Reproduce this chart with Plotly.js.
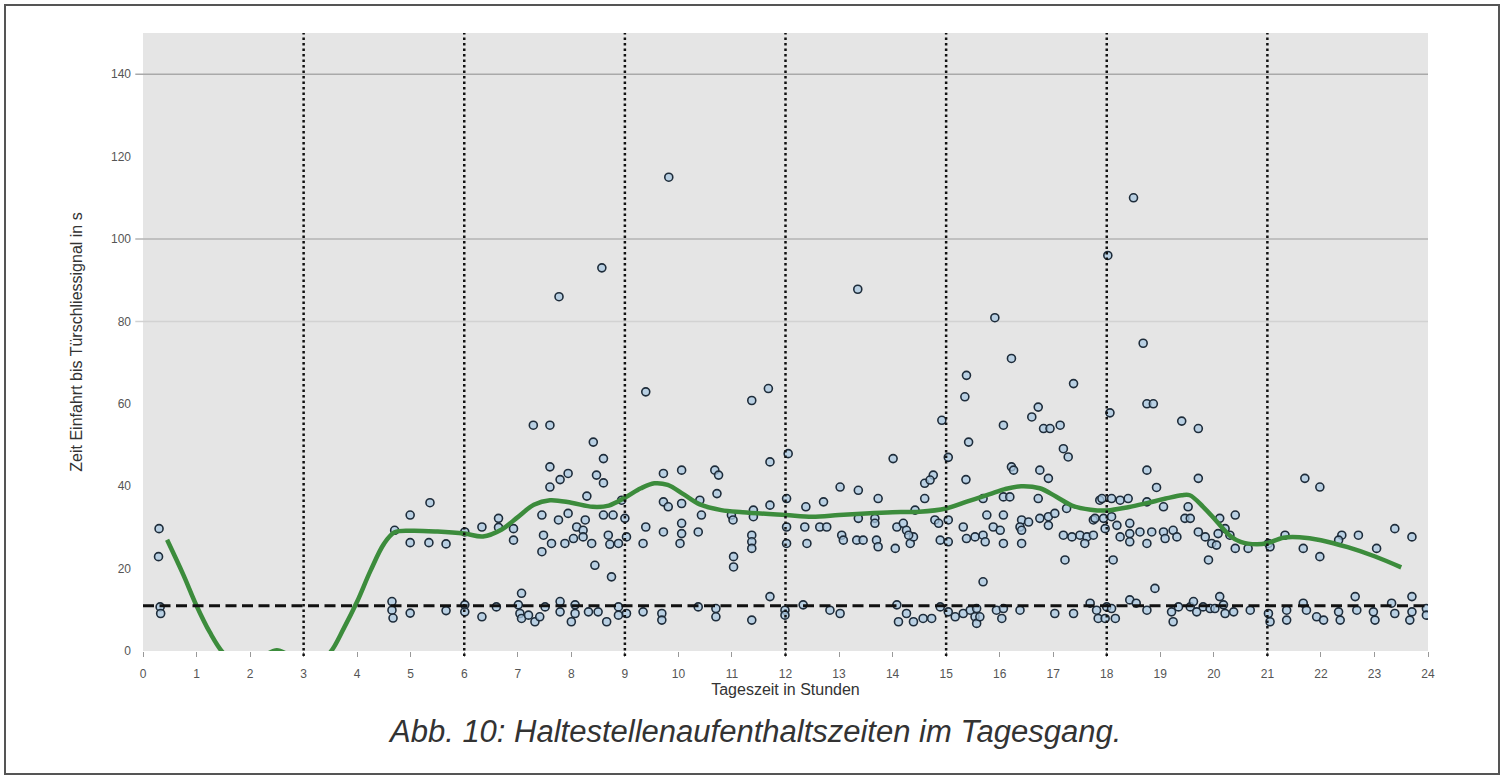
<!DOCTYPE html>
<html>
<head>
<meta charset="utf-8">
<script src="https://cdn.plot.ly/plotly-3.0.1.min.js"></script>
<style>
  html, body { margin: 0; padding: 0; background: #ffffff; }
  #frame { position: absolute; left: 4px; top: 4px; width: 1496px; height: 771px; border: 2px solid #555; box-sizing: border-box; }
  #chart { position: absolute; left: 0; top: 0; width: 1508px; height: 781px; }
</style>
</head>
<body>
<div id="chart"></div>
<div id="frame"></div>
<script>
// Observed stops: hour of day and dwell time (s)
const hours = [
 0.30,0.29,0.32,0.33,4.65,4.65,4.67,4.70,4.99,5.36,4.99,5.34,5.66,4.99,5.66,6.01,6.01,6.01,6.33,6.64,6.64,6.92,6.92,6.33,6.60,
 7.29,7.60,7.77,8.57,8.41,8.60,7.60,7.94,7.79,7.60,8.47,8.60,8.29,8.94,7.45,7.76,7.94,8.10,8.26,8.22,8.60,8.78,9.00,7.48,7.63,7.45,7.88,8.04,8.22,8.38,8.69,8.72,8.88,9.03,8.44,8.75,7.07,
 7.01,7.04,7.07,7.20,7.32,7.41,7.51,7.79,7.79,8.07,8.07,8.00,8.32,8.50,8.66,8.88,8.88,9.03,
 9.82,9.39,9.72,10.06,10.68,10.75,10.72,9.72,9.81,10.06,10.40,10.43,9.39,9.34,9.72,10.06,10.06,10.03,10.37,9.34,9.69,9.69,10.37,10.70,10.70,
 11.37,11.68,11.71,12.05,11.71,10.99,11.02,11.40,11.40,11.03,11.03,11.37,11.37,11.37,11.37,11.71,11.99,11.99,
 12.02,12.38,12.71,13.02,13.36,13.73,14.01,13.35,14.60,14.76,14.70,14.60,14.42,12.02,12.02,12.36,12.40,12.64,12.77,13.05,13.08,13.33,13.45,13.36,13.67,13.67,13.70,13.73,14.05,14.08,14.20,14.26,14.33,14.39,14.30,14.79,
 12.33,12.83,13.02,14.08,14.11,14.26,14.39,14.57,14.73,14.89,
 14.92,15.04,15.38,15.35,15.42,15.37,15.91,16.22,16.07,16.22,16.26,16.72,16.60,16.82,16.94,17.13,17.19,17.28,17.38,16.75,16.91,15.69,16.07,16.19,16.72,15.76,16.07,16.41,16.54,16.38,16.75,16.91,17.03,17.25,16.91,
 14.86,15.04,14.89,15.04,15.32,15.38,15.54,15.69,15.73,15.88,16.01,16.07,16.41,16.41,15.69,17.22,17.19,17.35,17.50,17.63,17.75,17.59,17.87,17.75,
 15.04,15.17,15.32,15.45,15.54,15.57,15.63,15.57,15.94,16.04,16.07,16.38,17.03,17.38,17.69,17.81,
 18.50,18.02,18.68,18.06,18.75,18.87,19.40,19.71,18.75,18.93,19.71,17.91,18.09,18.25,18.40,18.75,19.06,19.52,19.46,19.56,17.78,17.94,18.09,17.97,18.19,18.43,18.43,18.62,18.84,19.06,19.24,18.25,18.43,18.75,19.09,19.31,19.71,19.84,19.96,20.05,20.11,20.21,19.90,18.12,18.90,
 17.84,17.97,18.16,18.00,18.09,18.43,18.55,18.75,19.21,19.24,19.34,19.56,19.62,19.68,19.80,19.93,20.02,20.11,20.18,20.21,
 20.40,20.08,20.30,20.40,20.64,
 21.02,21.05,21.33,21.67,21.98,21.70,21.98,22.39,22.33,22.70,23.04,23.38,23.70,
 20.37,20.68,21.02,21.05,21.36,21.36,21.67,21.73,21.92,22.05,22.33,22.36,22.64,22.67,22.98,23.01,23.32,23.38,23.70,23.70,23.66,23.97,23.97
];
const seconds = [
 29.7,22.9,10.7,9.1,12.0,9.9,8.0,29.3,33.0,36.0,26.3,26.3,26.0,9.2,9.8,11.2,9.5,28.9,30.1,32.2,30.0,29.7,26.9,8.3,10.7,
 54.8,54.8,86.0,93.0,50.7,46.7,44.7,43.1,41.6,39.8,42.7,40.8,37.6,36.6,33.0,31.8,33.4,30.1,31.8,29.3,33.0,33.0,32.2,28.1,26.1,24.1,26.1,27.3,27.7,26.1,28.1,25.9,26.1,27.7,20.8,18.0,14.0,
 11.2,9.1,7.9,8.7,7.1,8.3,10.7,12.0,9.5,11.2,9.1,7.1,9.5,9.5,7.1,10.7,8.7,9.1,
 115.0,62.9,43.1,43.9,43.9,42.7,38.2,36.2,35.0,35.8,36.6,33.0,30.1,26.1,28.9,31.0,28.5,26.1,28.9,9.5,9.1,7.5,10.7,10.3,8.3,
 60.8,63.7,45.9,47.9,35.4,33.0,31.8,34.2,32.6,22.9,20.4,28.1,26.5,24.9,7.5,13.2,9.9,8.7,
 37.0,35.0,36.2,39.8,39.0,37.0,46.7,87.8,40.7,42.7,41.5,37.0,34.2,30.1,26.1,30.1,26.1,30.1,30.1,28.1,26.9,26.9,26.9,32.2,32.2,31.0,26.9,25.3,24.9,30.1,31.0,29.3,26.1,27.7,28.1,31.8,
 11.2,9.9,9.1,11.2,7.1,9.1,7.1,7.9,7.9,10.7,
 56.0,47.0,66.9,61.7,50.7,41.6,80.9,71.0,54.8,44.7,43.9,59.2,56.8,54.0,54.0,54.8,49.1,47.1,64.9,43.9,41.9,37.0,37.4,37.4,37.0,33.0,33.0,31.8,31.3,30.1,32.2,32.6,33.4,34.6,30.5,
 31.0,31.8,26.9,26.5,30.1,27.3,27.7,28.1,26.5,30.1,29.3,26.1,29.3,26.1,16.8,22.1,28.1,27.7,28.1,27.7,28.1,26.1,36.6,31.8,
 9.5,8.3,9.1,9.9,8.3,6.7,8.3,10.3,9.9,7.9,10.3,9.9,9.1,9.1,11.6,9.9,
 110.0,96.0,74.7,57.8,60.0,60.0,55.8,54.0,43.9,39.7,41.9,37.0,37.0,36.6,37.0,36.2,35.0,35.0,32.2,32.2,32.2,32.2,32.6,29.7,30.5,31.0,28.5,28.9,28.9,28.9,29.3,27.7,26.5,26.1,27.3,27.7,28.9,27.7,26.1,25.7,32.2,29.7,22.1,22.1,15.2,
 7.9,7.9,7.9,10.7,10.3,12.4,11.6,9.9,9.5,7.1,10.7,10.7,12.0,9.5,10.7,10.3,10.3,13.2,11.2,9.1,
 33.0,28.5,28.1,24.9,24.9,
 26.1,25.3,28.1,24.9,22.9,41.9,39.8,28.1,26.9,28.1,24.9,29.7,27.7,
 9.5,9.9,9.1,7.1,9.9,7.5,11.6,9.9,8.3,7.5,9.5,7.5,13.2,9.9,9.5,7.5,11.6,9.1,13.2,9.5,7.5,10.3,8.7
];

// Smoothed trend
const trendHours = [0.45,0.75,1.0,1.25,1.5,1.75,2.0,2.25,2.5,2.75,3.0,3.25,3.5,3.75,4.0,4.25,4.5,4.7,5.0,5.5,6.0,6.35,6.7,7.0,7.3,7.6,8.0,8.4,8.7,9.0,9.3,9.55,9.8,10.1,10.4,10.8,11.2,12.0,12.5,13.0,13.5,14.0,14.5,15.0,15.4,15.8,16.1,16.4,16.75,17.05,17.35,17.7,18.0,18.4,18.75,19.1,19.4,19.55,19.8,20.05,20.3,20.5,20.8,21.0,21.3,21.6,22.0,22.5,23.0,23.5];
const trendSeconds = [27.0,18.6,11.0,4.5,-0.5,-3.0,-2.5,-1.2,0.2,-1.2,-3.0,-3.2,-0.3,5.5,12.0,19.5,26.0,28.8,29.2,29.0,28.5,27.8,29.5,32.5,35.5,36.6,36.0,35.0,35.3,37.2,39.5,40.7,40.3,38.0,35.6,34.2,33.7,33.0,32.6,33.0,33.4,33.7,33.8,34.6,36.3,38.0,39.3,40.0,39.5,37.5,35.3,34.3,34.1,34.9,35.9,37.0,37.8,37.8,35.0,31.5,28.0,26.5,25.9,26.2,27.5,27.6,26.9,25.2,23.0,20.3];

const thresholdSeconds = 11;
const shiftMarkers = [3, 6, 9, 12, 15, 18, 21];
const hourTicks = [0,1,2,3,4,5,6,7,8,9,10,11,12,13,14,15,16,17,18,19,20,21,22,23,24];
const secondTicks = [0,20,40,60,80,100,120,140];
const gridSeconds = [140, 100, 80];
const gridColors = ['#a9a9a9', '#b3b3b3', '#d2d2d2'];

const FONT = 'Liberation Sans, Arial, Helvetica, sans-serif';

const traces = [
  {
    type: 'scatter', mode: 'markers', x: hours, y: seconds, name: 'Halt',
    marker: { symbol: 'circle', size: 8, color: 'rgba(170,200,226,0.75)', line: { color: '#1e2c3a', width: 1.6 } },
    hoverinfo: 'x+y', showlegend: false
  },
  {
    type: 'scatter', mode: 'lines', x: trendHours, y: trendSeconds, name: 'Trend',
    line: { color: '#3c8c3c', width: 4.5, shape: 'spline', smoothing: 1 },
    showlegend: false
  }
];

const shapes = [];
gridSeconds.forEach((v, i) => shapes.push({
  type: 'line', layer: 'below', xref: 'paper', x0: -0.006, x1: 1, yref: 'y', y0: v, y1: v,
  line: { color: gridColors[i], width: 1.5 }
}));
shapes.push({
  type: 'line', layer: 'above', xref: 'x', x0: 0, x1: 24, yref: 'y', y0: thresholdSeconds, y1: thresholdSeconds,
  line: { color: '#111', width: 3, dash: '11px,5.5px' }
});
shiftMarkers.forEach(h => shapes.push({
  type: 'line', layer: 'above', xref: 'x', x0: h, x1: h, yref: 'paper', y0: -0.008, y1: 1,
  line: { color: '#111', width: 2.5, dash: '2.5px,3px' }
}));

const layout = {
  width: 1508, height: 781,
  margin: { l: 143, r: 80, t: 33, b: 130 },
  paper_bgcolor: '#ffffff', plot_bgcolor: '#e5e5e5',
  font: { family: FONT, color: '#444' },
  showlegend: false,
  xaxis: {
    range: [0, 24], tickvals: hourTicks, ticktext: hourTicks.map(String),
    ticks: 'outside', ticklen: 5, tickcolor: '#999', tickwidth: 1,
    ticklabelstandoff: 7,
    showgrid: false, zeroline: false, showline: false,
    tickfont: { family: FONT, size: 12, color: '#555' },
    title: { text: 'Tageszeit in Stunden', font: { family: FONT, size: 16, color: '#333' }, standoff: 1 },
    automargin: false
  },
  yaxis: {
    range: [0, 150], tickvals: secondTicks, ticktext: secondTicks.map(String),
    ticks: '', ticklabelstandoff: 11,
    showgrid: false, zeroline: false, showline: false,
    tickfont: { family: FONT, size: 12, color: '#555' },
    title: { text: 'Zeit Einfahrt bis Türschliessignal in s', font: { family: FONT, size: 16, color: '#333' }, standoff: 24 },
    automargin: false
  },
  shapes: shapes,
  annotations: [{
    text: 'Abb. 10: Haltestellenaufenthaltszeiten im Tagesgang.',
    xref: 'paper', yref: 'paper', x: 0.476, y: -0.1295, xanchor: 'center', yanchor: 'middle',
    showarrow: false, font: { family: FONT, size: 31, color: '#333', style: 'italic' }
  }]
};

Plotly.newPlot('chart', traces, layout, { displayModeBar: false, staticPlot: true });
</script>
</body>
</html>
